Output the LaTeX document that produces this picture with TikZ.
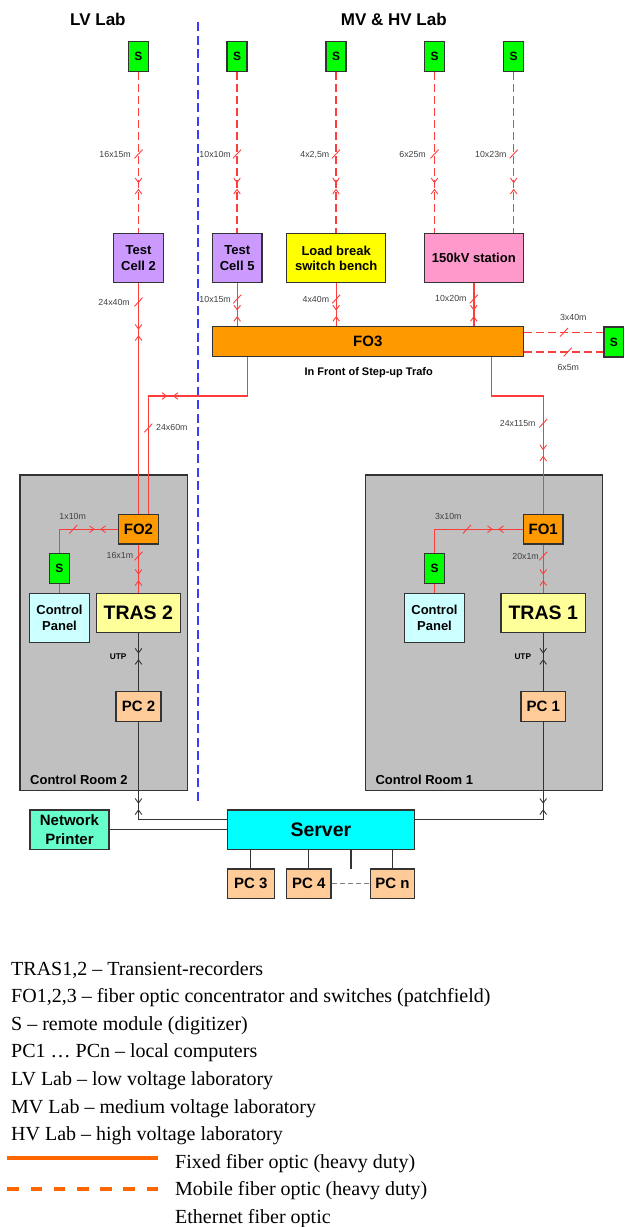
\documentclass[tikz,border=0pt]{standalone}
\usepackage{fontspec}
\setmainfont{Liberation Serif}
\newfontfamily\arial{Liberation Sans}
\definecolor{fibred}{RGB}{255,60,60}
\definecolor{divblue}{RGB}{60,60,255}
\definecolor{sgreen}{RGB}{0,255,0}
\definecolor{tcpurple}{HTML}{CC99FF}
\definecolor{lbyellow}{HTML}{FFFF00}
\definecolor{stpink}{HTML}{FF99CC}
\definecolor{foorange}{HTML}{FF9900}
\definecolor{crgray}{HTML}{C0C0C0}
\definecolor{cpcyan}{HTML}{CCFFFF}
\definecolor{trasyellow}{HTML}{FFFF99}
\definecolor{pcorange}{HTML}{FFCC99}
\definecolor{npgreen}{HTML}{66FFCC}
\definecolor{srvcyan}{HTML}{00FFFF}
\definecolor{legorange}{HTML}{FF6600}
\definecolor{linegray}{HTML}{333333}
\begin{document}
\begin{tikzpicture}[x=1pt,y=-1pt,
  nbox/.style={draw=linegray, line width=1.3pt, inner sep=0pt, align=center, text=black},
  sz/.style 2 args={minimum width=#1pt, minimum height=#2pt},
  bf/.style 2 args={font=\arial\bfseries\fontsize{#1}{#2}\selectfont},
  dl/.style={font=\arial\fontsize{8.8}{10}\selectfont, text=black!75, inner sep=0pt},
  fiber/.style={draw=fibred, line width=1.4pt},
  mobile/.style={draw=fibred, line width=1.5pt, dash pattern=on 8pt off 4pt},
  eth/.style={draw=linegray, line width=1.3pt},
  divider/.style={draw=divblue, line width=1.6pt, dash pattern=on 9pt off 4.5pt},
  tickmark/.pic={\draw[line width=0.9pt] (-4,4.3) -- (4,-4.3);},
  conn/.pic={\draw[line width=0.9pt] (-3.3,-8)--(0,-3.5)--(3.3,-8) (-3.3,8)--(0,3.5)--(3.3,8);},
  legtext/.style={font=\fontsize{20}{24}\selectfont, inner sep=0pt, anchor=base west}
]
\useasboundingbox (0,0) rectangle (630,1227);

% control rooms (background)
\node[nbox, fill=crgray, sz={167.7}{315.7}] (CR2) at (103.85,632.85) {};
\node[nbox, fill=crgray, sz={237.4}{315.7}] (CR1) at (484,632.85) {};
\node[bf={13}{15}, anchor=base west, inner sep=0pt] (CR2l) at (30,784.5) {Control Room 2};
\node[bf={13}{15}, anchor=base west, inner sep=0pt] (CR1l) at (375.3,784.5) {Control Room 1};

% headers
\node[bf={17}{20}, anchor=base west, inner sep=0pt] (LVl) at (70,25) {LV Lab};
\node[bf={17}{20}, anchor=base west, inner sep=0pt] (MVl) at (340.7,25) {MV \& HV Lab};

% divider
\coordinate (bl1) at (198,22);
\coordinate (bl2) at (198,805);
\draw[divider] (bl1) -- (bl2);

% remote modules top
\node[nbox, fill=sgreen, sz={20}{30}, bf={12}{14}] (S1) at (138.5,56.3) {S};
\node[nbox, fill=sgreen, sz={20}{30}, bf={12}{14}] (S2) at (237,56.3) {S};
\node[nbox, fill=sgreen, sz={20}{30}, bf={12}{14}] (S3) at (336,56.3) {S};
\node[nbox, fill=sgreen, sz={20}{30}, bf={12}{14}] (S4) at (434.5,56.3) {S};
\node[nbox, fill=sgreen, sz={20}{30}, bf={12}{14}] (S5) at (513.7,56.3) {S};

% row 2 boxes
\node[nbox, fill=tcpurple, sz={49.6}{49.4}, bf={13}{15.3}] (TC2) at (138.5,258) {Test\\Cell 2};
\node[nbox, fill=tcpurple, sz={49.7}{49.4}, bf={13}{15.3}] (TC5) at (237.2,258) {Test\\Cell 5};
\node[nbox, fill=lbyellow, sz={99}{49.4}, bf={13}{15.3}] (LB) at (336.2,258) {Load break\\switch bench};
\node[nbox, fill=stpink, sz={99}{49.4}, bf={13}{15.3}] (ST) at (473.8,258) {150kV station};

% FO3
\node[nbox, fill=foorange, sz={311}{30}, bf={15}{17}] (FO3) at (367.8,341.7) {FO3};
\node[bf={11}{13}, anchor=base, inner sep=0pt] (FO3l) at (368.7,375) {In Front of Step-up Trafo};
\node[nbox, fill=sgreen, sz={19.5}{30}, bf={12}{14}] (S6) at (613.8,342) {S};

% control room 2 contents
\node[nbox, fill=foorange, sz={39.6}{29.7}, bf={15}{17}] (FO2) at (138.5,529.2) {FO2};
\node[nbox, fill=sgreen, sz={20.4}{30}, bf={12}{14}] (S7) at (59.5,568.7) {S};
\node[nbox, fill=cpcyan, sz={59.6}{49.4}, bf={13}{15.7}] (CP2) at (59.5,618) {Control\\Panel};
\node[nbox, fill=trasyellow, sz={84}{39.4}, bf={19.5}{22}] (TRAS2) at (138.3,613) {TRAS 2};
\node[nbox, fill=pcorange, sz={45}{30}, bf={15}{17}] (PC2) at (138.5,706.7) {PC 2};

% control room 1 contents
\node[nbox, fill=foorange, sz={39.7}{29.7}, bf={15}{17}] (FO1) at (543.2,529.2) {FO1};
\node[nbox, fill=sgreen, sz={20.4}{30}, bf={12}{14}] (S8) at (434.5,568.7) {S};
\node[nbox, fill=cpcyan, sz={59.6}{49.4}, bf={13}{15.7}] (CP1) at (434.5,618) {Control\\Panel};
\node[nbox, fill=trasyellow, sz={84.3}{39.4}, bf={19.5}{22}] (TRAS1) at (543.2,613) {TRAS 1};
\node[nbox, fill=pcorange, sz={44.6}{30}, bf={15}{17}] (PC1) at (543.2,706.7) {PC 1};

% server area
\node[nbox, fill=npgreen, sz={79}{39.3}, bf={15}{18.3}] (NP) at (69.5,829.7) {Network\\Printer};
\node[nbox, fill=srvcyan, sz={187.2}{39.3}, bf={19.5}{22}] (SRV) at (320.9,829.7) {Server};
\node[nbox, fill=pcorange, sz={47}{29.3}, bf={15}{17}] (PC3) at (250.8,883.7) {PC 3};
\node[nbox, fill=pcorange, sz={44.5}{29.3}, bf={15}{17}] (PC4) at (308.8,883.7) {PC 4};
\node[nbox, fill=pcorange, sz={44.2}{29.3}, bf={15}{17}] (PCn) at (392.4,883.7) {PC n};

% mobile fibres top
\draw[mobile] (S1.south) -- (S1.south |- TC2.north);
\draw[mobile] (S2.south) -- (S2.south |- TC5.north);
\draw[mobile] (S3.south) -- (S3.south |- LB.north);
\draw[mobile] (S4.south) -- (S4.south |- ST.north);
\draw[mobile] (S5.south) -- (S5.south |- ST.north);
\foreach \xx in {138.5,237,336,434.5,513.7}{
  \pic[color=fibred] at (\xx,154) {tickmark};
  \pic[color=fibred] at (\xx,186) {conn};
}
\node[dl, anchor=base east] (d1) at (131,157.2) {16x15m};
\node[dl, anchor=base east] (d2) at (231,157.2) {10x10m};
\node[dl, anchor=base east] (d3) at (329.5,157.2) {4x2,5m};
\node[dl, anchor=base east] (d4) at (426,157.2) {6x25m};
\node[dl, anchor=base east] (d5) at (506.7,157.2) {10x23m};

% fixed fibres to FO3 / FO2
\draw[fiber] (TC2.south) -- (TC2.south |- FO2.north);
\draw[fiber] (TC5.south) -- (TC5.south |- FO3.north);
\draw[fiber] (LB.south) -- (LB.south |- FO3.north);
\draw[fiber] (ST.south) -- (ST.south |- FO3.north);
\pic[color=fibred] at (138.5,302) {tickmark};
\pic[color=fibred] at (138.5,332.5) {conn};
\pic[color=fibred] at (237.2,299) {tickmark};
\pic[color=fibred] at (237.2,313.3) {conn};
\pic[color=fibred] at (336.2,299) {tickmark};
\pic[color=fibred] at (336.2,313.3) {conn};
\pic[color=fibred] at (473.8,299) {tickmark};
\pic[color=fibred] at (473.8,313.3) {conn};
\node[dl, anchor=base east] (d6) at (130,305.9) {24x40m};
\node[dl, anchor=base east] (d7) at (231,302.2) {10x15m};
\node[dl, anchor=base east] (d8) at (329.3,302.5) {4x40m};
\node[dl, anchor=base east] (d9) at (466.7,301.5) {10x20m};

% FO3 to remote S (mobile)
\coordinate (r1) at (580,332.3);
\coordinate (r2) at (580,352);
\draw[mobile] (r1 -| FO3.east) -- (r1 -| S6.west);
\draw[mobile] (r2 -| FO3.east) -- (r2 -| S6.west);
\pic[color=fibred] at (564,332.3) {tickmark};
\pic[color=fibred] at (567.7,352) {tickmark};
\node[dl, anchor=base] (d10) at (573.3,320.9) {3x40m};
\node[dl, anchor=base] (d11) at (568.3,370.2) {6x5m};

% FO3 to FO2
\coordinate (j1) at (247.3,396);
\coordinate (j2) at (148.3,396);
\draw[fiber] (j1 |- FO3.south) -- (j1) -- (j2) -- (j2 |- FO2.north);
\pic[color=fibred, rotate=90] at (170,396) {conn};
\pic[color=fibred] at (148.3,428) {tickmark};
\node[dl, anchor=base west] (d12) at (156,430.9) {24x60m};

% FO3 to FO1
\coordinate (j3) at (491.3,396);
\coordinate (j4) at (543.2,396);
\draw[fiber] (j3 |- FO3.south) -- (j3) -- (j4) -- (FO1.north);
\pic[color=fibred] at (543.2,423.3) {tickmark};
\pic[color=fibred] at (543.2,453) {conn};
\node[dl, anchor=base east] (d13) at (535.7,426.5) {24x115m};

% control room 2 links
\draw[fiber] (FO2.west) -| (S7.north);
\draw[fiber] (S7.south) -- (CP2.north);
\draw[fiber] (FO2.south) -- (FO2.south |- TRAS2.north);
\pic[color=fibred] at (73.3,529.2) {tickmark};
\pic[color=fibred, rotate=90] at (97.5,529.2) {conn};
\node[dl, anchor=base] (d14) at (72.7,519.9) {1x10m};
\pic[color=fibred] at (138.5,556) {tickmark};
\pic[color=fibred] at (138.5,577.5) {conn};
\node[dl, anchor=base east] (d15) at (133.3,558.2) {16x1m};
\draw[eth] (PC2.north |- TRAS2.south) -- (PC2.north);
\pic[color=linegray] at (138.5,656.4) {conn};
\node[bf={8.3}{10}, anchor=base east, inner sep=0pt] (u2) at (126.7,659.7) {UTP};

% control room 1 links
\draw[fiber] (FO1.west) -| (S8.north);
\draw[fiber] (S8.south) -- (CP1.north);
\draw[fiber] (FO1.south) -- (FO1.south |- TRAS1.north);
\pic[color=fibred] at (467,529.2) {tickmark};
\pic[color=fibred, rotate=90] at (495.5,529.2) {conn};
\node[dl, anchor=base] (d16) at (448.3,519.9) {3x10m};
\pic[color=fibred] at (543.2,556) {tickmark};
\pic[color=fibred] at (543.2,577.5) {conn};
\node[dl, anchor=base east] (d17) at (539,559.2) {20x1m};
\draw[eth] (PC1.north |- TRAS1.south) -- (PC1.north);
\pic[color=linegray] at (543.2,656.4) {conn};
\node[bf={8.3}{10}, anchor=base east, inner sep=0pt] (u1) at (531.3,659.7) {UTP};

% ethernet to server
\coordinate (j5) at (138.5,819.3);
\coordinate (j6) at (543.2,819.3);
\draw[eth] (PC2.south) -- (j5) -- (j5 -| SRV.west);
\draw[eth] (PC1.south) -- (j6) -- (j6 -| SRV.east);
\pic[color=linegray] at (138.5,806.5) {conn};
\pic[color=linegray] at (543.2,806.5) {conn};
\draw[eth] (NP.east) -- (NP.east -| SRV.west);
\draw[eth] (PC3.north |- SRV.south) -- (PC3.north);
\draw[eth] (PC4.north |- SRV.south) -- (PC4.north);
\draw[eth] (PCn.north |- SRV.south) -- (PCn.north);
\coordinate (stub) at (351,869);
\draw[eth] (stub |- SRV.south) -- (stub);
\draw[draw=black!50, line width=1.1pt, dash pattern=on 5pt off 3pt] (PC4.east) -- (PCn.west);

% legend
\node[legtext] (g1) at (11,975) {TRAS1,2 – Transient-recorders};
\node[legtext] (g2) at (11,1002.6) {FO1,2,3 – fiber optic concentrator and switches (patchfield)};
\node[legtext] (g3) at (11,1030.2) {S – remote module (digitizer)};
\node[legtext] (g4) at (11,1057.8) {PC1 … PCn – local computers};
\node[legtext] (g5) at (11,1085.4) {LV Lab – low voltage laboratory};
\node[legtext] (g6) at (11,1113) {MV Lab – medium voltage laboratory};
\node[legtext] (g7) at (11,1140.6) {HV Lab – high voltage laboratory};
\node[legtext] (g8) at (175,1168.2) {Fixed fiber optic (heavy duty)};
\node[legtext] (g9) at (175,1195.8) {Mobile fiber optic (heavy duty)};
\node[legtext] (g10) at (175,1223.4) {Ethernet fiber optic};
\coordinate (la1) at (7.3,1158.3);
\coordinate (la2) at (158.3,1158.3);
\coordinate (lb1) at (7.3,1189.3);
\coordinate (lb2) at (158.3,1189.3);
\draw[legorange, line width=4pt] (la1) -- (la2);
\draw[legorange, line width=4pt, dash pattern=on 11.6pt off 11.6pt] (lb1) -- (lb2);
\end{tikzpicture}
\end{document}
